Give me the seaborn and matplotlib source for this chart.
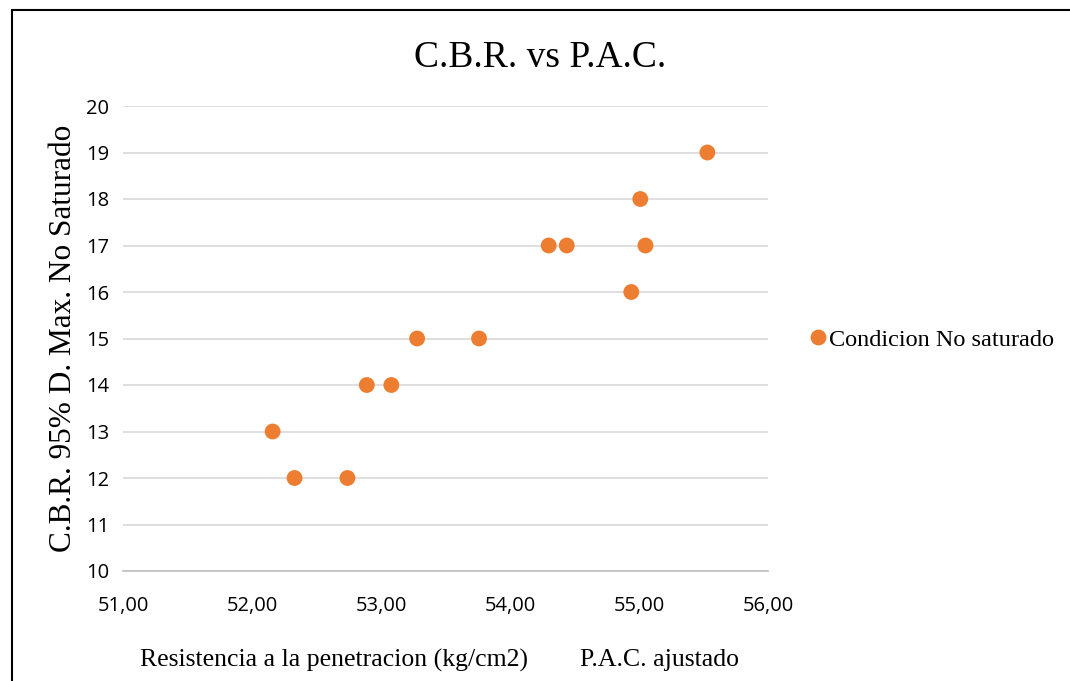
import matplotlib
matplotlib.use("Agg")
import matplotlib.pyplot as plt
import matplotlib.ticker as mticker
from matplotlib.patches import Rectangle
import seaborn as sns
import pandas as pd

# Data
pac = [52.16, 52.33, 52.74, 52.89, 53.08, 53.28, 53.76, 54.30, 54.44, 54.94, 55.01, 55.05, 55.53]
cbr = [13, 12, 12, 14, 14, 15, 15, 17, 17, 16, 18, 17, 19]
series_name = "Condicion No saturado"
x_ticks = [51, 52, 53, 54, 55, 56]
y_ticks = list(range(10, 21))

df = pd.DataFrame({"pac": pac, "cbr": cbr, "serie": series_name})

sns.set_style("white")
plt.rcParams["text.color"] = "black"
fig = plt.figure(figsize=(10.7, 6.81), dpi=100)
ax = fig.add_axes([123/1070, 1-571/681, (768-123)/1070, (571-106)/681])

sns.scatterplot(data=df, x="pac", y="cbr", hue="serie", palette=["#ED7D31"],
                s=130, edgecolor="none", ax=ax, legend=True, zorder=3)

ax.set_xlim(51, 56)
ax.set_ylim(10, 20)
ax.set_xticks(x_ticks)
ax.set_yticks(y_ticks)
ax.xaxis.set_major_formatter(mticker.FuncFormatter(lambda v, p: f"{v:.2f}".replace(".", ",")))
ax.grid(axis="y", color="#D9D9D9", linewidth=1.2, zorder=0)
ax.grid(axis="x", visible=False)
ax.set_axisbelow(True)
for s in ["left", "right", "top"]:
    ax.spines[s].set_visible(False)
ax.spines["bottom"].set_color("#BFBFBF")
ax.spines["bottom"].set_linewidth(1.2)
ax.tick_params(axis="both", length=0, labelsize=14.5, colors="black")
ax.tick_params(axis="y", pad=10)
ax.tick_params(axis="x", pad=18)
for lbl in ax.get_xticklabels() + ax.get_yticklabels():
    lbl.set_family(["Open Sans", "DejaVu Sans"])
    lbl.set_color("black")

ax.set_xlabel("")
ax.set_ylabel("C.B.R. 95% D. Max. No Saturado", family="Liberation Serif", fontsize=22.5,
              labelpad=6, color="black")

fig.text(540/1070, 1-58/681, "C.B.R. vs P.A.C.", family="Liberation Serif", fontsize=27,
         ha="center", va="center", color="black")
fig.text(440/1070, 1-660/681, "Resistencia a la penetracion (kg/cm2)        P.A.C. ajustado",
         family="Liberation Serif", fontsize=18.5, ha="center", va="center", color="black")

leg = ax.legend(loc="center left", bbox_to_anchor=(1.064, 0.497), frameon=False,
                prop={"family": "Liberation Serif", "size": 17.5},
                handlelength=0.7, handletextpad=0.12, markerscale=1.0, borderaxespad=0,
                borderpad=0)
for t in leg.get_texts():
    t.set_color("black")

fig.patches.append(Rectangle((12/1070, -0.1), 1.2, 1-10/681+0.1, transform=fig.transFigure,
                             fill=False, edgecolor="black", linewidth=1.5, figure=fig))

fig.savefig("out.png", dpi=100)
